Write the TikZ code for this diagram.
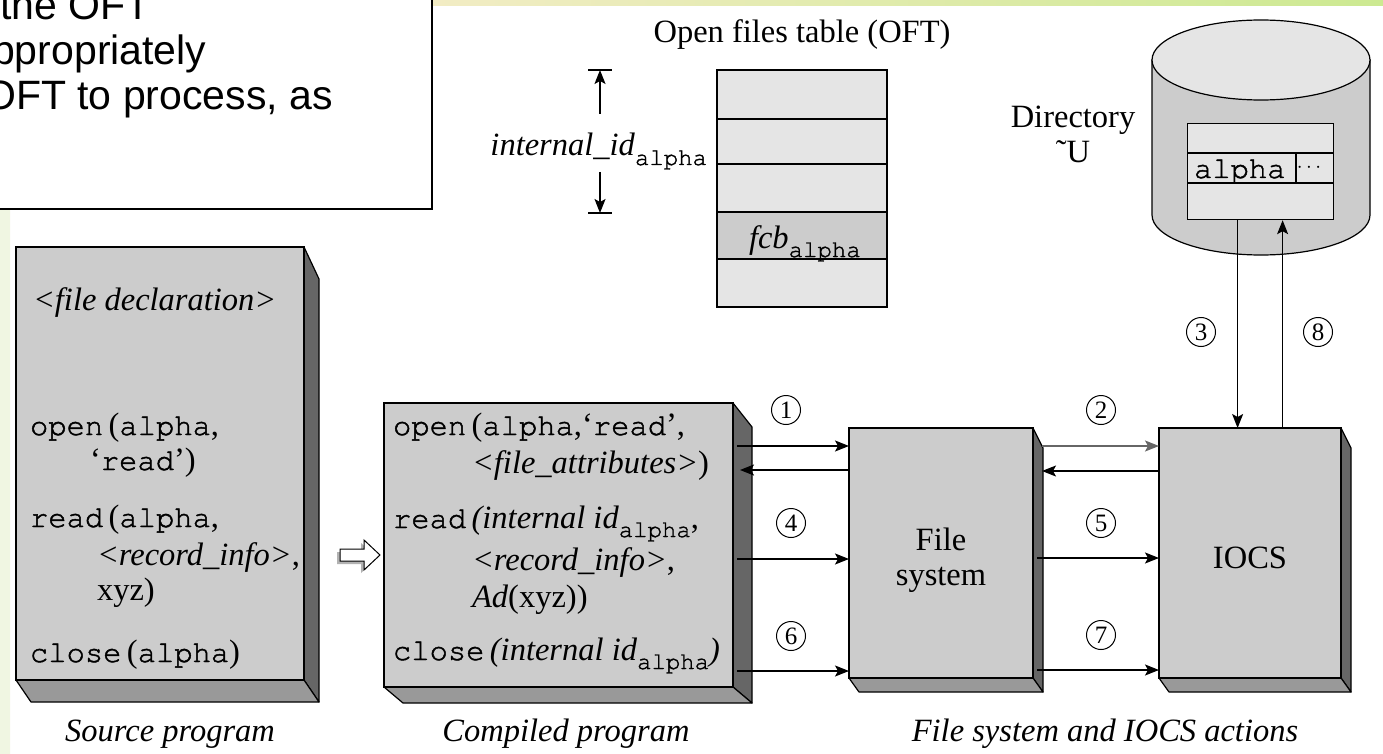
\documentclass[tikz,border=0pt]{standalone}
\usepackage{fontspec}
\setmainfont{Liberation Serif}
\setmonofont{texgyrecursor-regular.otf}[FakeBold=1.5]
\newfontfamily\sansf{Liberation Sans}
\usetikzlibrary{arrows.meta}

\definecolor{facegray}{gray}{0.80}
\definecolor{sidegray}{gray}{0.40}
\definecolor{botgray}{gray}{0.60}
\definecolor{cellgray}{gray}{0.90}
\definecolor{stripL}{RGB}{242,236,196}
\definecolor{stripR}{RGB}{204,233,145}
\definecolor{edgeA}{RGB}{240,246,226}
\definecolor{edgeB}{RGB}{214,238,226}

\newcommand\cw[1]{{\fontsize{30.5}{38}\selectfont\ttfamily #1}}
\newcommand\alphasub{\raisebox{-9pt}{\fontsize{24}{24}\selectfont\ttfamily alpha}}

% solid slab: name, left, top, right, bottom, depth x, side drop, bottom drop
\newcommand\solidbox[8]{%
  \filldraw[fill=sidegray,line width=1.2pt,line join=round]
    (#4,#3) -- (#4+#6,#3+#7) -- (#4+#6,#5+#8) -- (#4,#5) -- cycle;
  \filldraw[fill=botgray,line width=1.2pt,line join=round]
    (#2,#5) -- (#2+#6,#5+#8) -- (#4+#6,#5+#8) -- (#4,#5) -- cycle;
  \node[frontface,minimum width=#4-#2,minimum height=#5-#3] (#1) at (#2,#3) {};
}

\begin{document}
\begin{tikzpicture}[x=1pt,y=-1pt,
  txt/.style={font=\fontsize{32.5}{38}\selectfont,inner sep=0pt,outer sep=0pt},
  lbl/.style={txt,anchor=base},
  code/.style={txt,anchor=base west},
  slide/.style={font=\sansf\fontsize{41}{47}\selectfont,inner sep=0pt,anchor=base west},
  numc/.style={circle,draw,line width=1pt,minimum size=29pt,inner sep=0pt,
               font=\fontsize{25}{25}\selectfont},
  arr/.style={-{Stealth[length=14pt,width=11pt,inset=3pt]},line width=1.3pt},
  frontface/.style={draw,fill=facegray,line width=1.3pt,inner sep=0pt,
                    outer sep=0pt,anchor=north west},
  cell/.style={draw,fill=cellgray,line width=1.2pt}]

\useasboundingbox (0,0) rectangle (1383,754);
\fill[white] (0,0) rectangle (1383,754);

% slide background edges
\shade[left color=stripL,right color=stripR] (432,0) rectangle (1383,6);
\shade[top color=edgeA,middle color=edgeB,bottom color=edgeA] (0,209) rectangle (10,754);

% callout box with its text
\begin{scope}
  \clip (0,0) rectangle (1383,754);
  \draw[line width=2.5pt,fill=white] (-20,-20) rectangle (432,209);
  \node[slide] (c1) at (0,20) {the OFT};
  \node[slide] (c2) at (-8,65) {ppropriately};
  \node[slide] (c3) at (-16,110) {OFT to process, as};
\end{scope}

% open files table
\node[lbl] (ofttitle) at (802,43) {Open files table (OFT)};
\draw[cell] (717,70) rectangle (887,307);
\fill[facegray] (717,212) rectangle (887,259);
\foreach \yy in {119,164,212,259} \draw[line width=1.2pt] (717,\yy) -- (887,\yy);
\draw[line width=1.2pt] (717,70) rectangle (887,307);
\node[code] (fcb) at (749,248) {\textit{fcb}\alphasub};

% offset of the fcb inside the table
\node[txt,anchor=base east] (iid) at (707,156) {\textit{internal\_id}\alphasub};
\coordinate (dimtop) at (600,70);
\coordinate (dimbot) at (600,213);
\coordinate (dimup) at (600,114);
\coordinate (dimdn) at (600,172);
\draw[line width=1.2pt] (588,70) -- (612,70) (588,213) -- (612,213);
\draw[arr] (dimup) -- (dimtop);
\draw[arr] (dimdn) -- (dimbot);

% directory disk
\filldraw[fill=facegray,line width=1.2pt]
  (1152,60) -- (1152,215) arc[start angle=180,end angle=0,x radius=109,y radius=40]
  -- (1370,60) -- cycle;
\filldraw[fill=cellgray,line width=1.2pt] (1261,60) ellipse[x radius=109,y radius=40];
\node[cell,minimum width=146pt,minimum height=96pt,inner sep=0pt,anchor=north west]
  (dtab) at (1187,123) {};
\draw[line width=1.2pt] (1187,153) -- (1333,153) (1187,183) -- (1333,183) (1296,153) -- (1296,183);
\node[code] (alphaentry) at (1194,178) {\cw{alpha}};
\node[txt] (dots) at (1309,168) {\fontsize{20}{20}\selectfont$\cdots$};
\node[lbl] (dirname) at (1073,128) {Directory};
\node[lbl] (dirowner) at (1073,163) {˜U};

% source program
\solidbox{src}{16}{247}{304}{680}{15}{32}{22}
\node[code] (s1) at (33,310) {\textit{<file declaration>}};
\node[code] (s2) at (30,435) {\cw{open}\,(\cw{alpha},};
\node[code] (s3) at (90,470) {‘\cw{read}’)};
\node[code] (s4) at (30,527) {\cw{read}\,(\cw{alpha},};
\node[code] (s5) at (97,565) {\textit{<record\_info>},};
\node[code] (s6) at (97,600) {xyz)};
\node[code] (s7) at (30,662) {\cw{close}\,(\cw{alpha})};
\node[lbl] (srclbl) at (170,741) {\textit{Source program}};

% compilation step: hollow arrow with a soft shadow
\coordinate (conv) at (360,555);
\fill[black!30] (337,549+3) -- (361,549+3) -- (361,540+3) -- (377,555+3)
  -- (361,570+3) -- (361,561+3) -- (337,561+3) -- cycle;
\filldraw[fill=white,line width=1pt,line join=miter]
  (340,549) -- (364,549) -- (364,540) -- (380,555) -- (364,570) -- (364,561) -- (340,561) -- cycle;

% compiled program
\solidbox{cmp}{384}{403}{733}{687}{19}{24}{16}
\node[code] (k1) at (393,435) {\cw{open}\,(\cw{alpha},‘\cw{read}’,};
\node[code] (k2) at (472,473) {\textit{<file\_attributes>})};
\node[code] (k3) at (393,528) {\cw{read}\,\textit{(internal id}\alphasub,};
\node[code] (k4) at (472,570) {\textit{<record\_info>},};
\node[code] (k5) at (472,607) {\textit{Ad}(xyz))};
\node[code] (k6) at (393,660) {\cw{close}\,\textit{(internal id}\alphasub\textit{)}};
\node[lbl] (cmplbl) at (566,741) {\textit{Compiled program}};

% file system and IOCS
\solidbox{fs}{849}{428}{1033}{678}{10}{20}{14}
\solidbox{iocs}{1159}{428}{1341}{678}{10}{20}{14}
\node[lbl] (fst1) at (941,550) {File};
\node[lbl] (fst2) at (941,585) {system};
\node[lbl] (iocst) at (1250,568) {IOCS};
\node[lbl] (fslbl) at (1105,741) {\textit{File system and IOCS actions}};

% calls between compiled program and file system
\draw[arr] ([xshift=4pt,yshift=-43pt]cmp.north east) -- ([yshift=-18pt]fs.north west);
\draw[arr] ([yshift=-42pt]fs.north west) -- ([xshift=7pt,yshift=-67pt]cmp.north east);
\draw[arr] ([xshift=4pt,yshift=-156pt]cmp.north east) -- ([yshift=-131pt]fs.north west);
\draw[arr] ([xshift=4pt,yshift=-268pt]cmp.north east) -- ([yshift=-243pt]fs.north west);

% calls between file system and IOCS
\draw[arr,draw=black!60] ([xshift=9pt,yshift=-18pt]fs.north east) -- ([yshift=-18pt]iocs.north west);
\draw[arr] ([yshift=-43pt]iocs.north west) -- ([xshift=9pt,yshift=-43pt]fs.north east);
\draw[arr] ([xshift=4pt,yshift=-130pt]fs.north east) -- ([yshift=-130pt]iocs.north west);
\draw[arr] ([xshift=4pt,yshift=-242pt]fs.north east) -- ([yshift=-242pt]iocs.north west);

% IOCS and the directory
\draw[arr] ([xshift=-23pt]dtab.south) -- ([xshift=-23pt]dtab.south |- iocs.north);
\draw[arr] ([xshift=22pt]dtab.south |- iocs.north) -- ([xshift=22pt]dtab.south);

% step numbers
\node[numc] (n1) at (786,410) {1};
\node[numc] (n2) at (1101,410) {2};
\node[numc] (n3) at (1201,332) {3};
\node[numc] (n4) at (791,523) {4};
\node[numc] (n5) at (1101,523) {5};
\node[numc] (n6) at (791,636) {6};
\node[numc] (n7) at (1101,635) {7};
\node[numc] (n8) at (1318,332) {8};
\end{tikzpicture}
\end{document}
